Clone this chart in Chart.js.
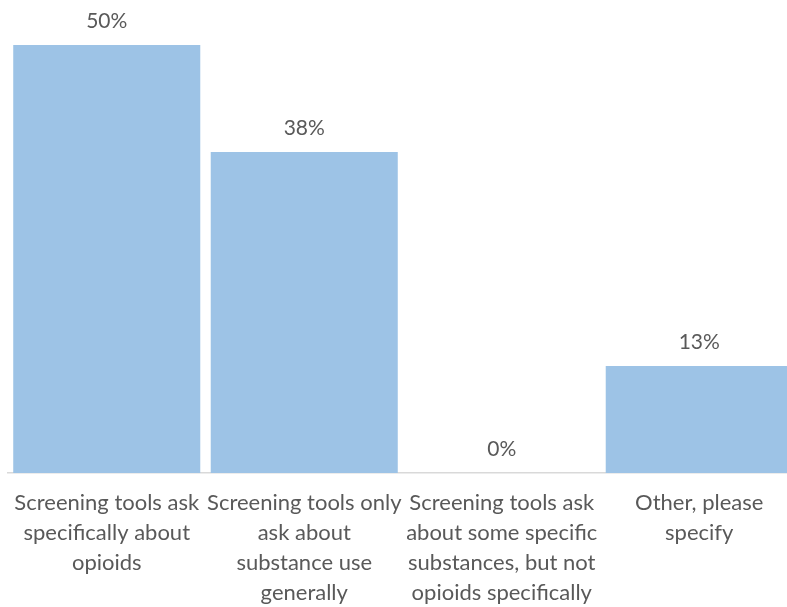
<!DOCTYPE html>
<html>
<head>
<meta charset="utf-8">
<script src="https://cdn.jsdelivr.net/npm/chart.js@4/dist/chart.umd.min.js"></script>
<style>
html,body{margin:0;padding:0;background:#fff;overflow:hidden;width:787px;height:607px;}
#wrap{position:absolute;left:0;top:0;width:800px;height:607px;}
</style>
</head>
<body>
<div id="wrap"><canvas id="c" width="800" height="607"></canvas></div>
<script>
const categories = [
  ["Screening tools ask", "specifically about", "opioids"],
  ["Screening tools only", "ask about", "substance use", "generally"],
  ["Screening tools ask", "about some specific", "substances, but not", "opioids specifically"],
  ["Other, please", "specify"]
];
const values = [50, 37.5, 0, 12.5];
const valueLabels = ["50%", "38%", "0%", "13%"];

const FONT = "Lato, 'Noto Sans', sans-serif";
const TXT = "#595959";

const labelPlugin = {
  id: 'valueLabels',
  afterDatasetsDraw(chart) {
    const ctx = chart.ctx;
    const meta = chart.getDatasetMeta(0);
    ctx.save();
    ctx.font = "21px " + FONT;
    ctx.fillStyle = TXT;
    ctx.textAlign = 'center';
    ctx.textBaseline = 'middle';
    meta.data.forEach((bar, i) => {
      ctx.fillText(valueLabels[i], bar.x, bar.y - 24);
    });
    ctx.restore();
  }
};

new Chart(document.getElementById('c'), {
  type: 'bar',
  data: {
    labels: categories,
    datasets: [{
      data: values,
      backgroundColor: '#9dc3e6',
      borderWidth: 0,
      barPercentage: 0.947,
      categoryPercentage: 1.0
    }]
  },
  options: {
    responsive: false,
    animation: false,
    devicePixelRatio: 1,
    layout: { padding: { left: 8, right: 2, top: 45, bottom: 0 } },
    plugins: { legend: { display: false }, tooltip: { enabled: false } },
    scales: {
      x: {
        grid: { display: false, drawTicks: false },
        border: { display: true, color: '#d9d9d9', width: 1.5 },
        ticks: {
          color: TXT,
          font: { family: FONT, size: 22, lineHeight: 1.355 },
          padding: 15.5,
          maxRotation: 0,
          autoSkip: false
        },
        afterFit(scale) { scale.height = 134; scale.paddingLeft = 0; scale.paddingRight = 0; }
      },
      y: {
        display: false,
        min: 0,
        max: 50
      }
    }
  },
  plugins: [labelPlugin]
});
</script>
</body>
</html>
